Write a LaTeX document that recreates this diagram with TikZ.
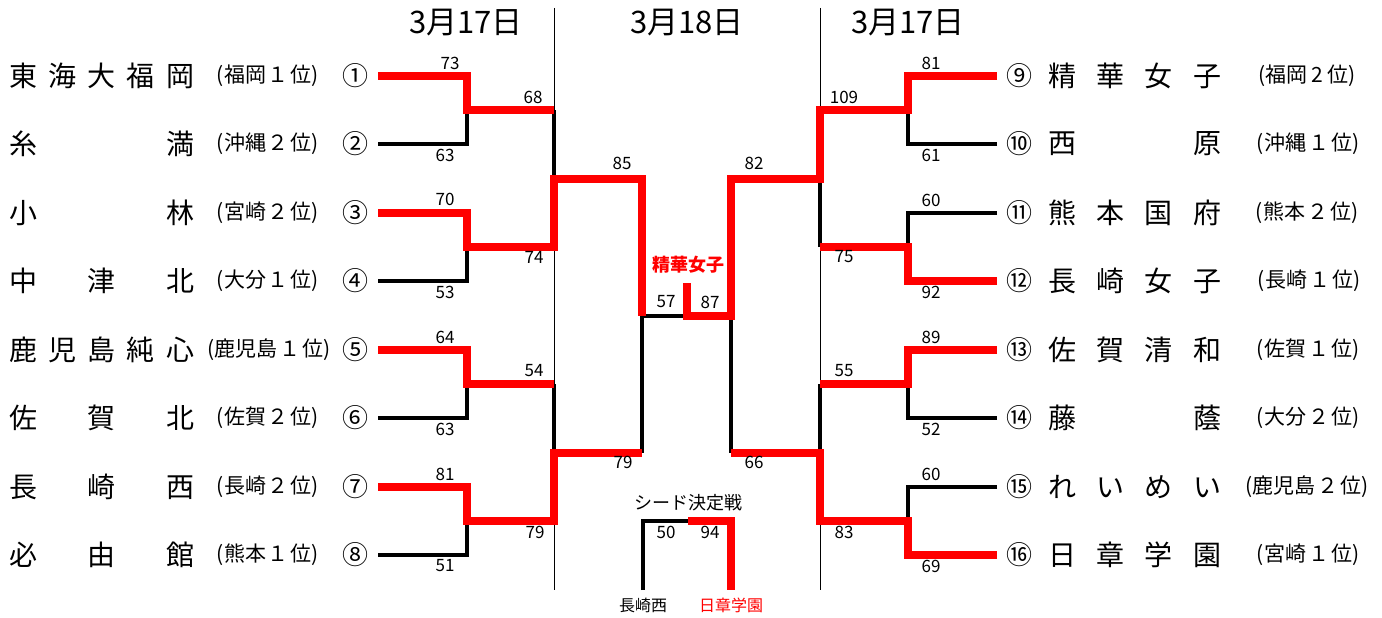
\documentclass[tikz,border=0pt]{standalone}
\usepackage{fontspec}
\setmainfont{Noto Sans CJK JP}
\definecolor{brk}{RGB}{255,0,0}
\newcommand{\spread}[2]{\makebox[#1][s]{#2}}
\newcommand{\dg}[1]{\hspace{2pt}#1\hspace{2pt}}
\begin{document}
\begin{tikzpicture}[x=1pt,y=-1pt,
  win/.style={draw=brk, line width=8pt, line join=miter},
  lose/.style={draw=black, line width=3.5pt, line join=miter},
  divider/.style={draw=black, line width=1pt},
  score/.style={inner sep=0, font=\fontsize{17}{17}\selectfont},
  team/.style={anchor=west, inner sep=0, font=\fontsize{28}{28}\selectfont},
  pref/.style={inner sep=0, font=\fontsize{21}{21}\selectfont},
  seedno/.style={inner sep=0, font=\fontsize{26}{26}\selectfont},
  day/.style={inner sep=0, font=\fontsize{31}{31}\selectfont},
  small/.style={inner sep=0, font=\fontsize{16}{16}\selectfont}]
\useasboundingbox (0,0) rectangle (1382,618);

% ---------- coordinates ----------
\coordinate (L1) at (378,76);  \coordinate (L2) at (378,144);
\coordinate (L3) at (378,213); \coordinate (L4) at (378,281);
\coordinate (L5) at (378,350); \coordinate (L6) at (378,418);
\coordinate (L7) at (378,487); \coordinate (L8) at (378,555);
\coordinate (A1) at (467,110); \coordinate (A2) at (467,247);
\coordinate (A3) at (467,384); \coordinate (A4) at (467,521);
\coordinate (B1) at (554,110); \coordinate (B2) at (554,247);
\coordinate (B3) at (554,384); \coordinate (B4) at (554,521);
\coordinate (C1) at (554,178.5); \coordinate (C2) at (554,452.5);
\coordinate (D1) at (642,178.5); \coordinate (D2) at (642,452.5);
\coordinate (F1) at (642,316); \coordinate (FC) at (687,316);
\coordinate (W) at (687,283);  \coordinate (F2) at (731,316);

\coordinate (R9) at (997,76);   \coordinate (R10) at (997,144);
\coordinate (R11) at (997,213); \coordinate (R12) at (997,281);
\coordinate (R13) at (997,350); \coordinate (R14) at (997,418);
\coordinate (R15) at (997,487); \coordinate (R16) at (997,555);
\coordinate (E1) at (908,110); \coordinate (E2) at (908,247);
\coordinate (E3) at (908,384); \coordinate (E4) at (908,521);
\coordinate (G1) at (820,110); \coordinate (G2) at (820,247);
\coordinate (G3) at (820,384); \coordinate (G4) at (820,521);
\coordinate (H1) at (820,178.5); \coordinate (H2) at (820,452.5);
\coordinate (I1) at (731,178.5); \coordinate (I2) at (731,452.5);

\coordinate (T1) at (554,8); \coordinate (T2) at (554,590);
\coordinate (T3) at (820,8); \coordinate (T4) at (820,590);

\coordinate (S1) at (643,590); \coordinate (S2) at (643,521);
\coordinate (SM) at (688,521); \coordinate (S3) at (731,521);
\coordinate (S4) at (731,590);

% ---------- dividers ----------
\draw[divider] (T1) -- (T2);
\draw[divider] (T3) -- (T4);

% ---------- losing lines ----------
\draw[lose] (L2) -| (A1);
\draw[lose] (L4) -| (A2);
\draw[lose] (L6) -| (A3);
\draw[lose] (L8) -| (A4);
\draw[lose] (B1) -- (C1);
\draw[lose] (B3) -- (C2);
\draw[lose] (D2) -- (F1) -- (FC);
\draw[lose] (R10) -| (E1);
\draw[lose] (R11) -| (E2);
\draw[lose] (R14) -| (E3);
\draw[lose] (R15) -| (E4);
\draw[lose] (G2) -- (H1);
\draw[lose] (G3) -- (H2);
\draw[lose] (I2) -- (F2);
\draw[lose] (S1) -- (S2) -- (SM);

% ---------- winning lines ----------
\draw[win] (L1) -| (A1) -- (B1);
\draw[win] (L3) -| (A2) -- (B2) -- (C1) -- (D1) -- (F1);
\draw[win] (L5) -| (A3) -- (B3);
\draw[win] (L7) -| (A4) -- (B4) -- (C2) -- (D2);
\draw[win] (R9) -| (E1) -- (G1) -- (H1) -- (I1) -- (F2) -- (FC) -- (W);
\draw[win] (R12) -| (E2) -- (G2);
\draw[win] (R13) -| (E3) -- (G3);
\draw[win] (R16) -| (E4) -- (G4) -- (H2) -- (I2);
\draw[win] (SM) -- (S3) -- (S4);

% ---------- headers ----------
\node[day] (d1) at (466,23) {3月17日};
\node[day] (d2) at (687,23) {3月18日};
\node[day] (d3) at (908,23) {3月17日};

% ---------- left teams ----------
\node[team] (n1) at (9,76)  {\spread{185pt}{東\hfill 海\hfill 大\hfill 福\hfill 岡}};
\node[team] (n2) at (9,144) {\spread{185pt}{糸\hfill 満}};
\node[team] (n3) at (9,213) {\spread{185pt}{小\hfill 林}};
\node[team] (n4) at (9,281) {\spread{185pt}{中\hfill 津\hfill 北}};
\node[team] (n5) at (9,350) {\spread{185pt}{鹿\hfill 児\hfill 島\hfill 純\hfill 心}};
\node[team] (n6) at (9,418) {\spread{185pt}{佐\hfill 賀\hfill 北}};
\node[team] (n7) at (9,487) {\spread{185pt}{長\hfill 崎\hfill 西}};
\node[team] (n8) at (9,555) {\spread{185pt}{必\hfill 由\hfill 館}};

\node[pref] (p1) at (268,76)  {(福岡\dg{１}位)};
\node[pref] (p2) at (268,144) {(沖縄\dg{２}位)};
\node[pref] (p3) at (268,213) {(宮崎\dg{２}位)};
\node[pref] (p4) at (268,281) {(大分\dg{１}位)};
\node[pref] (p5) at (269,350) {(鹿児島\dg{１}位)};
\node[pref] (p6) at (268,418) {(佐賀\dg{２}位)};
\node[pref] (p7) at (268,487) {(長崎\dg{２}位)};
\node[pref] (p8) at (268,555) {(熊本\dg{１}位)};

\node[seedno] (c1) at (355,76)  {①};
\node[seedno] (c2) at (355,144) {②};
\node[seedno] (c3) at (355,213) {③};
\node[seedno] (c4) at (355,281) {④};
\node[seedno] (c5) at (355,350) {⑤};
\node[seedno] (c6) at (355,418) {⑥};
\node[seedno] (c7) at (355,487) {⑦};
\node[seedno] (c8) at (355,555) {⑧};

% ---------- right teams ----------
\node[seedno] (c9)  at (1019,76)  {⑨};
\node[seedno] (c10) at (1019,144) {⑩};
\node[seedno] (c11) at (1019,213) {⑪};
\node[seedno] (c12) at (1019,281) {⑫};
\node[seedno] (c13) at (1019,350) {⑬};
\node[seedno] (c14) at (1019,418) {⑭};
\node[seedno] (c15) at (1019,487) {⑮};
\node[seedno] (c16) at (1019,555) {⑯};

\node[team] (n9)  at (1048,76)  {\spread{173pt}{精\hfill 華\hfill 女\hfill 子}};
\node[team] (n10) at (1048,144) {\spread{173pt}{西\hfill 原}};
\node[team] (n11) at (1048,213) {\spread{173pt}{熊\hfill 本\hfill 国\hfill 府}};
\node[team] (n12) at (1048,281) {\spread{173pt}{長\hfill 崎\hfill 女\hfill 子}};
\node[team] (n13) at (1048,350) {\spread{173pt}{佐\hfill 賀\hfill 清\hfill 和}};
\node[team] (n14) at (1048,418) {\spread{173pt}{藤\hfill 蔭}};
\node[team] (n15) at (1048,487) {\spread{173pt}{れ\hfill い\hfill め\hfill い}};
\node[team] (n16) at (1048,555) {\spread{173pt}{日\hfill 章\hfill 学\hfill 園}};

\node[pref] (p9)  at (1307,76)  {(福岡\hspace{4pt}2\hspace{4pt}位)};
\node[pref] (p10) at (1308,144) {(沖縄\dg{１}位)};
\node[pref] (p11) at (1307,213) {(熊本\dg{２}位)};
\node[pref] (p12) at (1309,281) {(長崎\dg{１}位)};
\node[pref] (p13) at (1308,350) {(佐賀\dg{１}位)};
\node[pref] (p14) at (1308,418) {(大分\dg{２}位)};
\node[pref] (p15) at (1307,487) {(鹿児島\dg{２}位)};
\node[pref] (p16) at (1308,555) {(宮崎\dg{１}位)};

% ---------- scores left ----------
\node[score] (sc1) at (450,63)  {73};
\node[score] (sc2) at (445,155) {63};
\node[score] (sc3) at (445,199) {70};
\node[score] (sc4) at (445,292) {53};
\node[score] (sc5) at (445,337) {64};
\node[score] (sc6) at (445,429) {63};
\node[score] (sc7) at (445,474) {81};
\node[score] (sc8) at (445,566) {51};
\node[score] (sc9)  at (533,97)  {68};
\node[score] (sc10) at (534,257) {74};
\node[score] (sc11) at (534,371) {54};
\node[score] (sc12) at (535,532) {79};
\node[score] (sc13) at (622,163) {85};
\node[score] (sc14) at (623,462) {79};
\node[score] (sc15) at (666,302) {57};
% ---------- scores right ----------
\node[score] (sc16) at (710,302) {87};
\node[score] (sc17) at (754,163) {82};
\node[score] (sc18) at (754,462) {66};
\node[score] (sc19) at (844,97)  {109};
\node[score] (sc20) at (844,257) {75};
\node[score] (sc21) at (844,371) {55};
\node[score] (sc22) at (844,532) {83};
\node[score] (sc23) at (931,63)  {81};
\node[score] (sc24) at (931,155) {61};
\node[score] (sc25) at (931,200) {60};
\node[score] (sc26) at (931,292) {92};
\node[score] (sc27) at (931,337) {89};
\node[score] (sc28) at (931,429) {52};
\node[score] (sc29) at (931,474) {60};
\node[score] (sc30) at (931,566) {69};

% ---------- centre ----------
\node[inner sep=0, text=brk, font=\fontsize{18}{18}\selectfont\bfseries] (champ) at (688,265) {精華女子};
\node[inner sep=0, font=\fontsize{18}{18}\selectfont] (seedt) at (688,503) {シード決定戦};
\node[score] (sc31) at (666,532) {50};
\node[score] (sc32) at (710,532) {94};
\node[small] (sl) at (643,605) {長崎西};
\node[small, text=brk] (sw) at (731,605) {日章学園};
\end{tikzpicture}
\end{document}
